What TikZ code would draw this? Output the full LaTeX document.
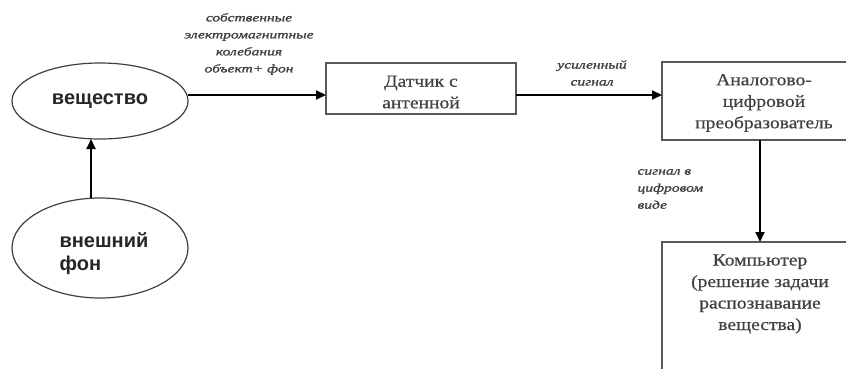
\documentclass[tikz,border=0pt]{standalone}
\usepackage{fontspec}
\setmainfont{Liberation Serif}
\newfontfamily\boxfont[FakeStretch=1.15,FakeBold=0.6]{Liberation Serif}
\newfontfamily\ovalfont{Liberation Sans}
\newfontfamily\lblfont[FakeStretch=1.35,FakeBold=1.5]{Liberation Serif}
\usetikzlibrary{arrows.meta,shapes.geometric}
\tikzset{
  oval/.style={draw=black!75,line width=1.2pt,ellipse,minimum width=176pt,inner sep=0pt},
  blk/.style={draw=black!65,line width=1.6pt},
  boxtxt/.style={font=\boxfont\fontsize{17}{21.5}\selectfont,text=black!75,align=center},
  ovaltxt/.style={font=\ovalfont\bfseries\fontsize{20}{23}\selectfont,text=black!85},
  lbl/.style={font=\lblfont\itshape\fontsize{11.5}{17}\selectfont,text=black!75},
  conn/.style={line width=1.8pt,-{Triangle[length=10pt,width=9pt]}}
}
\begin{document}
\begin{tikzpicture}[x=1pt,y=-1pt]
\useasboundingbox (0,0) rectangle (846,369);
\clip (0,0) rectangle (846,369);
% ellipses
\node[oval,minimum height=76pt] (sub) at (100,101) {};
\node[ovaltxt] at (100,101) {вещество};
\node[oval,minimum height=100pt] (bg) at (100,248) {};
\node[ovaltxt,align=left] at (104,254) {внешний\\фон};
% boxes
\draw[blk] (326,63) rectangle (516,114);
\coordinate (sensW) at (326,95);
\coordinate (sensE) at (516,95);
\node[boxtxt] (sens) at (421,92) {Датчик с\\антенной};
\draw[blk] (662,62) rectangle (860,140);
\coordinate (adcW) at (662,95);
\coordinate (adcS) at (760,140);
\node[boxtxt] (adc) at (764,103) {Аналогово-\\цифровой\\преобразователь};
\draw[blk] (662,242) rectangle (860,380);
\coordinate (compN) at (760,242);
\node[boxtxt] (comp) at (760,294) {Компьютер\\(решение задачи\\распознавание\\вещества)};
% connectors
\coordinate (subE) at (188,95);
\coordinate (bgN) at (91,198);
\coordinate (subS) at (91,139);
\draw[conn] (subE) -- (sensW);
\draw[conn] (sensE) -- (adcW);
\draw[conn] (adcS) -- (compN);
\draw[conn] (bgN) -- (subS);
% labels
\node[lbl,align=center] (l1) at (249,44) {собственные\\электромагнитные\\колебания\\объект+ фон};
\node[lbl,align=center] (l2) at (592,73) {усиленный\\сигнал};
\node[lbl,align=left,anchor=west] (l3) at (634,189) {сигнал в\\цифровом\\виде};
\end{tikzpicture}
\end{document}
